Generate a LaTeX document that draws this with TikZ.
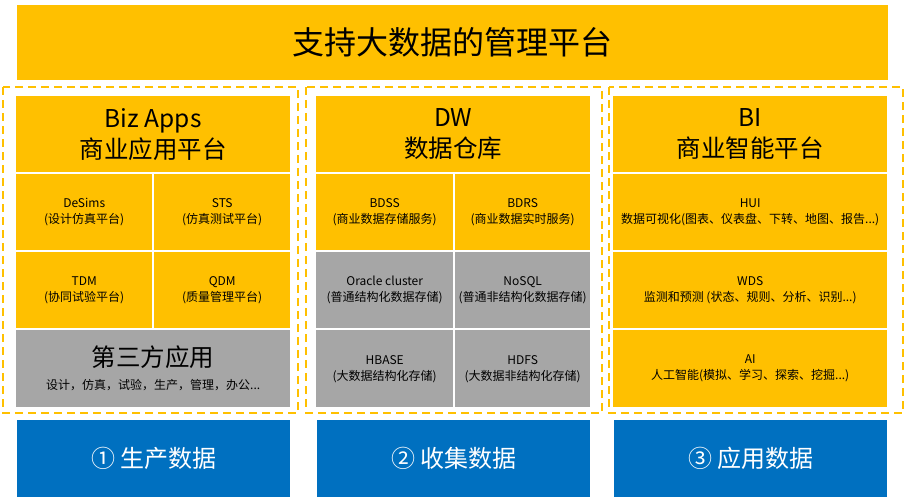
\documentclass[tikz,border=0pt]{standalone}
\usepackage{fontspec}
\setmainfont{Noto Sans CJK SC}
\usepackage{tikz}
\usetikzlibrary{positioning}
\definecolor{platyellow}{RGB}{255,192,0}
\definecolor{platgray}{RGB}{166,166,166}
\definecolor{platblue}{RGB}{0,112,192}

\tikzset{
  cell/.style={anchor=north west,inner sep=0pt,align=center,text=black,
    font=\fontsize{12}{16}\selectfont},
  ycell/.style={cell,fill=platyellow},
  gcell/.style={cell,fill=platgray},
  head/.style={ycell,minimum width=274pt,minimum height=76pt,
    font=\fontsize{24.5}{31}\selectfont},
  stage/.style={anchor=north west,inner sep=0pt,fill=platblue,text=white,
    minimum width=273pt,minimum height=77pt,font=\fontsize{24}{28}\selectfont},
  group/.style={draw=platyellow,line width=2pt,dash pattern=on 8pt off 5pt}
}

\begin{document}
\begin{tikzpicture}[x=1pt,y=-1pt]
    \useasboundingbox (0,0) rectangle (907,501);

    % Title banner
    \node[ycell,minimum width=871pt,minimum height=75pt,
      font=\fontsize{32}{38}\selectfont] (title) at (17,5) {支持大数据的管理平台};

    % Dashed groups
    \draw[group] (3,87) rectangle (298,413);
    \draw[group] (306,87) rectangle (602,413);
    \draw[group] (609,87) rectangle (903,413);

    % Biz Apps column
    \node[head] (bizhead) at (16,96) {Biz Apps\\商业应用平台};
    \node[ycell,minimum width=136pt,minimum height=76pt] (desims) at (16,174) {DeSims\\(设计仿真平台)};
    \node[ycell,minimum width=136pt,minimum height=76pt] (sts) at (154,174) {STS\\(仿真测试平台)};
    \node[ycell,minimum width=136pt,minimum height=76pt] (tdm) at (16,252) {TDM\\(协同试验平台)};
    \node[ycell,minimum width=136pt,minimum height=76pt] (qdm) at (154,252) {QDM\\(质量管理平台)};
    \node[gcell,minimum width=274pt,minimum height=77pt,font=\fontsize{24.5}{28}\selectfont] (third) at (16,330)
      {第三方应用\\[-5pt]{\fontsize{12}{14}\selectfont 设计，仿真，试验，生产，管理，办公...}};

    % DW column
    \node[head] (dwhead) at (316,96) {DW\\数据仓库};
    \node[ycell,minimum width=137pt,minimum height=76pt] (bdss) at (316,174) {BDSS\\(商业数据存储服务)};
    \node[ycell,minimum width=135pt,minimum height=76pt] (bdrs) at (455,174) {BDRS\\(商业数据实时服务)};
    \node[gcell,minimum width=137pt,minimum height=76pt] (oracle) at (316,252) {Oracle cluster\\(普通结构化数据存储)};
    \node[gcell,minimum width=135pt,minimum height=76pt] (nosql) at (455,252) {NoSQL\\(普通非结构化数据存储)};
    \node[gcell,minimum width=137pt,minimum height=77pt] (hbase) at (316,330) {HBASE\\(大数据结构化存储)};
    \node[gcell,minimum width=135pt,minimum height=77pt] (hdfs) at (455,330) {HDFS\\(大数据非结构化存储)};

    % BI column
    \node[head] (bihead) at (613,96) {BI\\商业智能平台};
    \node[ycell,minimum width=274pt,minimum height=76pt] (hui) at (613,174) {HUI\\数据可视化(图表、仪表盘、下转、地图、报告...)};
    \node[ycell,minimum width=274pt,minimum height=76pt] (wds) at (613,252) {WDS\\监测和预测 (状态、规则、分析、识别...)};
    \node[ycell,minimum width=274pt,minimum height=77pt] (ai) at (613,330) {AI\\人工智能(模拟、学习、探索、挖掘...)};

    % Data stages
    \node[stage] (produce) at (17,420) {① 生产数据};
    \node[stage] (collect) at (317,420) {② 收集数据};
    \node[stage] (apply) at (614,420) {③ 应用数据};
\end{tikzpicture}
\end{document}
